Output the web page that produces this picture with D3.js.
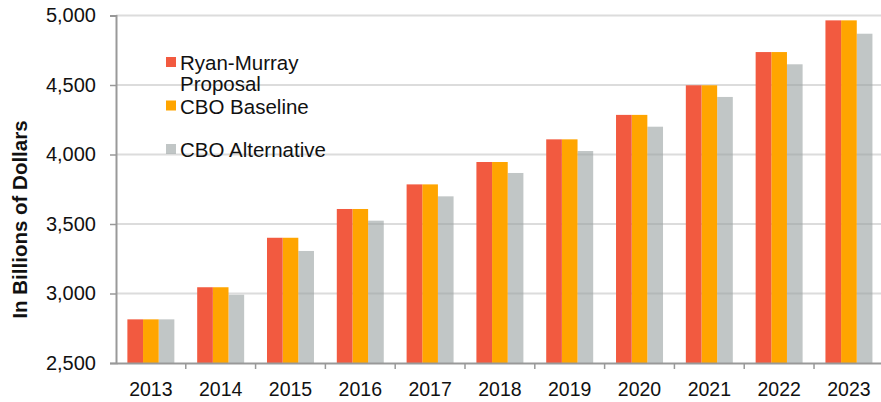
<!DOCTYPE html>
<html>
<head>
<meta charset="utf-8">
<script src="https://cdn.jsdelivr.net/npm/d3@7"></script>
<style>
  body { margin: 0; background: #fff; }
  svg text { font-family: "Liberation Sans", Arial, sans-serif; fill: #111; }
</style>
</head>
<body>
<div id="chart"></div>
<script>
// data
const years = ["2013", "2014", "2015", "2016", "2017", "2018", "2019", "2020", "2021", "2022", "2023"];
const ryanMurray = [2814, 3045, 3401, 3608, 3785, 3946, 4109, 4285, 4498, 4737, 4965];
const cboBaseline = [2814, 3045, 3401, 3608, 3785, 3946, 4109, 4285, 4498, 4737, 4965];
const cboAlternative = [2814, 2991, 3306, 3524, 3699, 3867, 4025, 4200, 4414, 4649, 4869];
const seriesNames = ["Ryan-Murray Proposal", "CBO Baseline", "CBO Alternative"];
const yTicks = [2500, 3000, 3500, 4000, 4500, 5000];

const W = 881, H = 402;
const plotLeft = 116, plotTop = 15.5, plotBottom = 363;
const step = 69.8;

const svg = d3.select("#chart")
  .append("svg")
    .attr("width", W)
    .attr("height", H);

const x = d3.scaleBand()
  .domain(years)
  .range([plotLeft, plotLeft + step * years.length])
  .paddingInner(0.327)
  .paddingOuter(0.163);

const xs = d3.scaleBand()
  .domain(seriesNames)
  .range([0, x.bandwidth()]);

const y = d3.scaleLinear()
  .domain([2500, 5000])
  .range([plotBottom, plotTop]);

const color = d3.scaleOrdinal()
  .domain(seriesNames)
  .range(["#f25a40", "#ffa500", "#98a0a0"]);

const rows = years.map((yr, i) => ({
  year: yr,
  values: [
    {name: seriesNames[0], v: ryanMurray[i]},
    {name: seriesNames[1], v: cboBaseline[i]},
    {name: seriesNames[2], v: cboAlternative[i]}
  ]
}));

// gridlines
svg.append("g")
  .selectAll("line")
  .data(yTicks.slice(1))
  .join("line")
    .attr("x1", plotLeft)
    .attr("x2", W)
    .attr("y1", d => y(d))
    .attr("y2", d => y(d))
    .attr("stroke", "#dcdcdc")
    .attr("stroke-width", 2);

// bars (grey alternative bars drawn first, slightly see-through like the original)
const groups = svg.append("g")
  .selectAll("g")
  .data(rows)
  .join("g")
    .attr("transform", d => `translate(${x(d.year)},0)`);

groups.selectAll("rect")
  .data(d => d.values.slice().reverse())
  .join("rect")
    .attr("x", d => xs(d.name))
    .attr("y", d => y(d.v))
    .attr("width", xs.bandwidth())
    .attr("height", d => plotBottom - y(d.v))
    .attr("fill", d => color(d.name))
    .attr("fill-opacity", d => d.name == "CBO Alternative" ? 0.6 : 1);

// y axis
const yAxis = svg.append("g")
  .attr("transform", `translate(${plotLeft},0)`)
  .call(d3.axisLeft(y).tickValues(yTicks).tickFormat(d3.format(",")).tickSize(6).tickPadding(14));
yAxis.select(".domain").attr("stroke", "#999").attr("stroke-width", 2);
yAxis.selectAll(".tick line").attr("stroke", "#999").attr("stroke-width", 1.5);
yAxis.selectAll("text").style("font-size", "20px").attr("fill", "#111");

// x axis
const xAxis = svg.append("g")
  .attr("transform", `translate(0,${plotBottom})`)
  .call(d3.axisBottom(x).tickSize(0).tickPadding(19));
xAxis.select(".domain").attr("stroke", "#999").attr("stroke-width", 2);
xAxis.selectAll("text").style("font-size", "19.5px").attr("fill", "#111");

// boundary ticks between categories
const gap = (x.step() - x.bandwidth()) / 2;
svg.append("g")
  .selectAll("line")
  .data(years.slice(1))
  .join("line")
    .attr("x1", d => x(d) - gap)
    .attr("x2", d => x(d) - gap)
    .attr("y1", plotBottom)
    .attr("y2", plotBottom + 6)
    .attr("stroke", "#999")
    .attr("stroke-width", 1.5);

// y axis title
svg.append("text")
  .attr("transform", "translate(27,219.5) rotate(-90)")
  .attr("text-anchor", "middle")
  .style("font-size", "20.5px")
  .style("font-weight", "bold")
  .text("In Billions of Dollars");

// legend
const legend = [
  {name: seriesNames[0], lines: ["Ryan-Murray", "Proposal"], y: 70},
  {name: seriesNames[1], lines: ["CBO Baseline"], y: 113.5},
  {name: seriesNames[2], lines: ["CBO Alternative"], y: 157}
];
const lg = svg.append("g");
lg.selectAll("rect")
  .data(legend)
  .join("rect")
    .attr("x", 166)
    .attr("y", d => d.y - 13)
    .attr("width", 10)
    .attr("height", 10)
    .attr("fill", d => color(d.name))
    .attr("fill-opacity", d => d.name == "CBO Alternative" ? 0.6 : 1);
lg.selectAll("text")
  .data(legend)
  .join("text")
    .attr("x", 180)
    .attr("y", d => d.y)
    .style("font-size", "20.5px")
    .selectAll("tspan")
    .data(d => d.lines)
    .join("tspan")
      .attr("x", 180)
      .attr("dy", (d, i) => i == 0 ? 0 : 20.8)
      .text(d => d);
</script>
</body>
</html>
